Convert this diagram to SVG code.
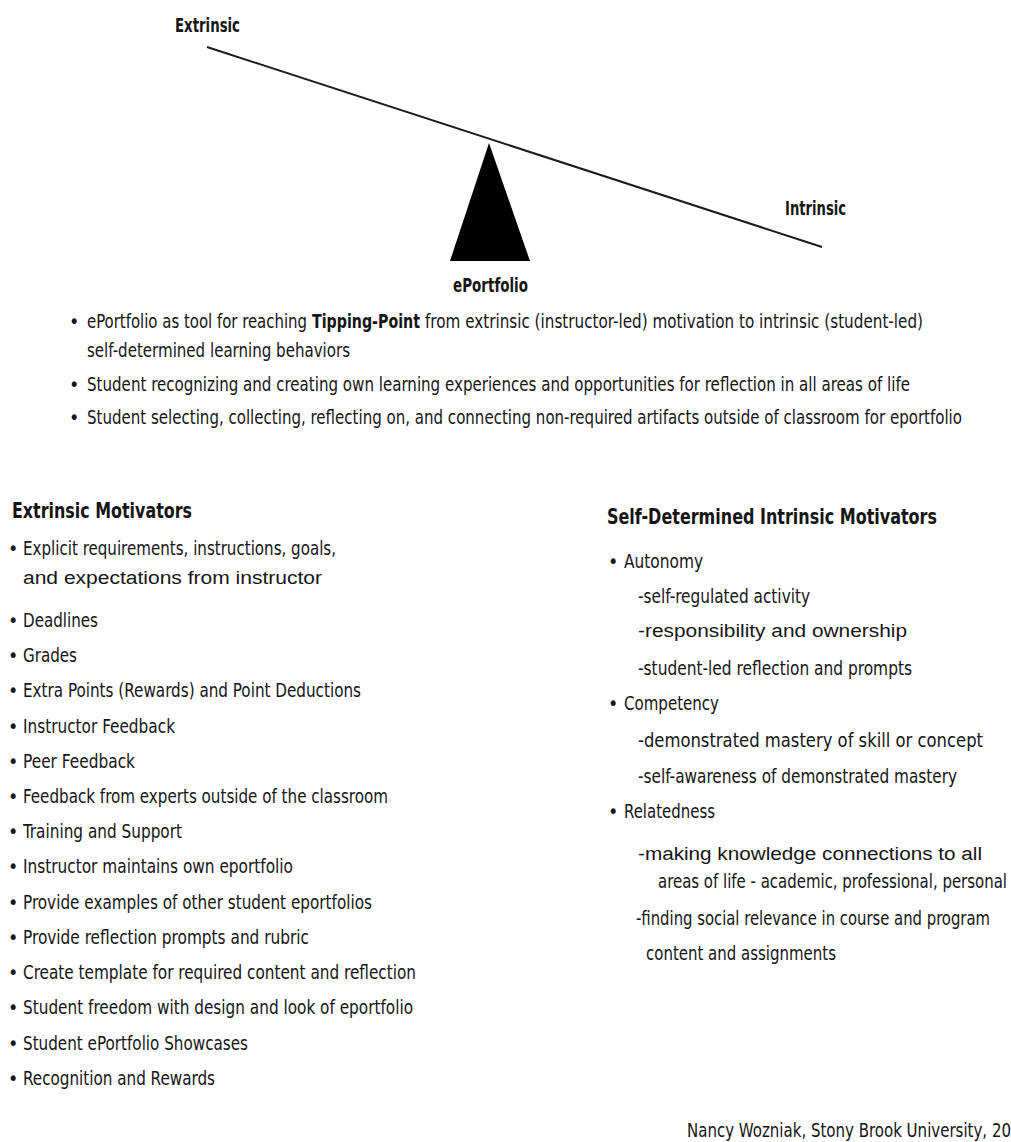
<svg xmlns="http://www.w3.org/2000/svg" width="1011" height="1142" viewBox="0 0 1011 1142">
<style>
  text { font-family: "Liberation Sans Narrow", "DejaVu Sans Condensed", "Liberation Sans", sans-serif; fill: #151515; font-size: 19.5px; }
  .b { font-weight: bold; }
  .h { font-weight: bold; font-size: 21px; }
  .l { font-weight: bold; font-size: 19px; }
  .w { font-family: "Liberation Sans", "DejaVu Sans", sans-serif; font-size: 18px; }
  .beam { stroke: #1a1a1a; stroke-width: 2; fill: none; }
</style>
<rect width="1011" height="1142" fill="#ffffff"/>

<g id="connectors">
  <line class="beam" x1="207" y1="47" x2="822" y2="247"/>
</g>

<g id="fulcrum">
  <polygon points="489,143 450,261 530,261" fill="#000000"/>
  <text class="l" x="453" y="292" textLength="75" lengthAdjust="spacingAndGlyphs">ePortfolio</text>
</g>

<g id="label-extrinsic">
  <text class="l" x="175" y="32" textLength="65" lengthAdjust="spacingAndGlyphs">Extrinsic</text>
</g>
<g id="label-intrinsic">
  <text class="l" x="785" y="215" textLength="61" lengthAdjust="spacingAndGlyphs">Intrinsic</text>
</g>

<g id="tipping-point-notes">
  <text x="69" y="328">•</text>
  <text x="87" y="328" textLength="220" lengthAdjust="spacingAndGlyphs">ePortfolio as tool for reaching</text>
  <text class="b" x="312" y="328" textLength="108" lengthAdjust="spacingAndGlyphs">Tipping-Point</text>
  <text x="425" y="328" textLength="498" lengthAdjust="spacingAndGlyphs">from extrinsic (instructor-led) motivation to intrinsic (student-led)</text>
  <text x="87" y="357" textLength="263" lengthAdjust="spacingAndGlyphs">self-determined learning behaviors</text>
  <text x="69" y="391">•</text>
  <text x="87" y="391" textLength="823" lengthAdjust="spacingAndGlyphs">Student recognizing and creating own learning experiences and opportunities for reflection in all areas of life</text>
  <text x="69" y="424">•</text>
  <text x="87" y="424" textLength="875" lengthAdjust="spacingAndGlyphs">Student selecting, collecting, reflecting on, and connecting non-required artifacts outside of classroom for eportfolio</text>
</g>

<g id="extrinsic-motivators">
  <text class="h" x="12" y="518" textLength="180" lengthAdjust="spacingAndGlyphs">Extrinsic Motivators</text>
  <text x="8" y="555">•</text>
  <text x="23" y="555" textLength="313" lengthAdjust="spacingAndGlyphs">Explicit requirements, instructions, goals,</text>
  <text class="w" x="23" y="584" textLength="299" lengthAdjust="spacingAndGlyphs">and expectations from instructor</text>
  <text x="8" y="627">•</text>
  <text x="23" y="627" textLength="75" lengthAdjust="spacingAndGlyphs">Deadlines</text>
  <text x="8" y="662">•</text>
  <text x="23" y="662" textLength="54" lengthAdjust="spacingAndGlyphs">Grades</text>
  <text x="8" y="697">•</text>
  <text x="23" y="697" textLength="338" lengthAdjust="spacingAndGlyphs">Extra Points (Rewards) and Point Deductions</text>
  <text x="8" y="733">•</text>
  <text x="23" y="733" textLength="152" lengthAdjust="spacingAndGlyphs">Instructor Feedback</text>
  <text x="8" y="768">•</text>
  <text x="23" y="768" textLength="112" lengthAdjust="spacingAndGlyphs">Peer Feedback</text>
  <text x="8" y="803">•</text>
  <text x="23" y="803" textLength="365" lengthAdjust="spacingAndGlyphs">Feedback from experts outside of the classroom</text>
  <text x="8" y="838">•</text>
  <text x="23" y="838" textLength="159" lengthAdjust="spacingAndGlyphs">Training and Support</text>
  <text x="8" y="873">•</text>
  <text x="23" y="873" textLength="270" lengthAdjust="spacingAndGlyphs">Instructor maintains own eportfolio</text>
  <text x="8" y="909">•</text>
  <text x="23" y="909" textLength="349" lengthAdjust="spacingAndGlyphs">Provide examples of other student eportfolios</text>
  <text x="8" y="944">•</text>
  <text x="23" y="944" textLength="286" lengthAdjust="spacingAndGlyphs">Provide reflection prompts and rubric</text>
  <text x="8" y="979">•</text>
  <text x="23" y="979" textLength="393" lengthAdjust="spacingAndGlyphs">Create template for required content and reflection</text>
  <text x="8" y="1014">•</text>
  <text x="23" y="1014" textLength="390" lengthAdjust="spacingAndGlyphs">Student freedom with design and look of eportfolio</text>
  <text x="8" y="1050">•</text>
  <text x="23" y="1050" textLength="225" lengthAdjust="spacingAndGlyphs">Student ePortfolio Showcases</text>
  <text x="8" y="1085">•</text>
  <text x="23" y="1085" textLength="192" lengthAdjust="spacingAndGlyphs">Recognition and Rewards</text>
</g>

<g id="intrinsic-motivators">
  <text class="h" x="607" y="524" textLength="330" lengthAdjust="spacingAndGlyphs">Self-Determined Intrinsic Motivators</text>
  <text x="608" y="568">•</text>
  <text x="624" y="568" textLength="79" lengthAdjust="spacingAndGlyphs">Autonomy</text>
  <text x="638" y="603" textLength="172" lengthAdjust="spacingAndGlyphs">-self-regulated activity</text>
  <text class="w" x="638" y="637" textLength="269" lengthAdjust="spacingAndGlyphs">-responsibility and ownership</text>
  <text x="638" y="675" textLength="274" lengthAdjust="spacingAndGlyphs">-student-led reflection and prompts</text>
  <text x="608" y="710">•</text>
  <text x="624" y="710" textLength="95" lengthAdjust="spacingAndGlyphs">Competency</text>
  <text x="638" y="747" textLength="345" lengthAdjust="spacingAndGlyphs">-demonstrated mastery of skill or concept</text>
  <text x="638" y="783" textLength="319" lengthAdjust="spacingAndGlyphs">-self-awareness of demonstrated mastery</text>
  <text x="608" y="818">•</text>
  <text x="624" y="818" textLength="91" lengthAdjust="spacingAndGlyphs">Relatedness</text>
  <text class="w" x="638" y="860" textLength="344" lengthAdjust="spacingAndGlyphs">-making knowledge connections to all</text>
  <text x="658" y="888" textLength="349" lengthAdjust="spacingAndGlyphs">areas of life - academic, professional, personal</text>
  <text x="636" y="925" textLength="354" lengthAdjust="spacingAndGlyphs">-finding social relevance in course and program</text>
  <text x="646" y="960" textLength="190" lengthAdjust="spacingAndGlyphs">content and assignments</text>
</g>

<g id="credit">
  <text x="687" y="1137" textLength="324" lengthAdjust="spacingAndGlyphs">Nancy Wozniak, Stony Brook University, 20</text>
</g>
</svg>
